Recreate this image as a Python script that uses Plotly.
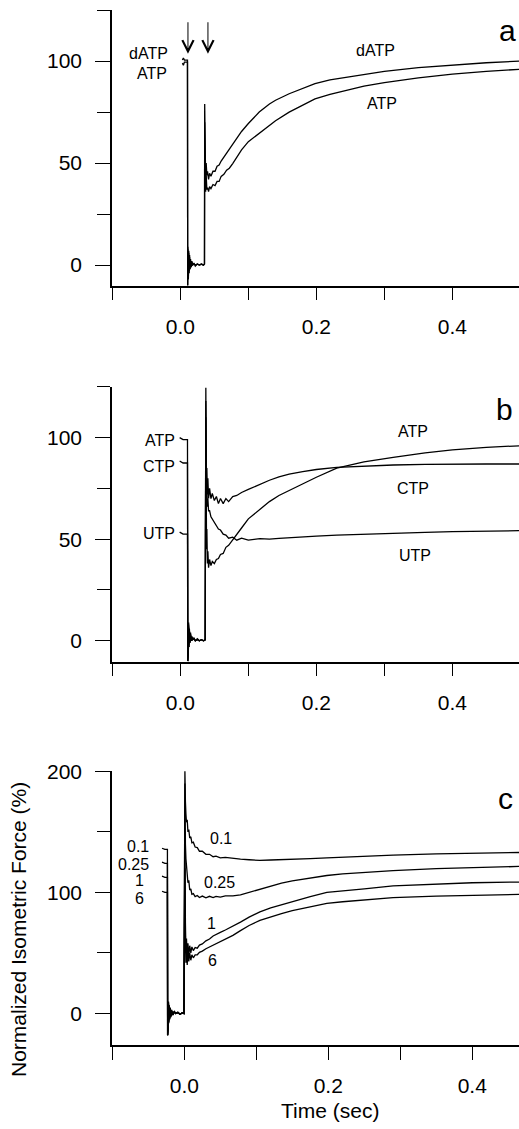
import plotly.graph_objects as go

# ---------------- data ----------------
# Panel a: dATP vs ATP
a_t = [0.003, 0.0045, 0.006, 0.0105, 0.0108, 0.0112, 0.0118, 0.0124, 0.013, 0.0136,
       0.0142, 0.015, 0.016, 0.017, 0.018, 0.02, 0.022, 0.025, 0.028, 0.031,
       0.034, 0.0355, 0.0358, 0.0362, 0.0366, 0.0372, 0.038, 0.039, 0.040, 0.0415,
       0.043, 0.045, 0.048, 0.051, 0.054, 0.057, 0.06, 0.064, 0.068, 0.072,
       0.077, 0.083, 0.09, 0.1, 0.116, 0.131, 0.14, 0.16, 0.18, 0.198,
       0.22, 0.25, 0.27, 0.3, 0.35, 0.4, 0.45, 0.5]
a_datp = [100.5, 101.5, 100.5, 100.5, -10, 9, -7, 7, -4, 5,
          -2, 3, -1, 2, 0, 1, -0.5, 0.5, 0, 0.5,
          0, 0.5, 79, 45, 60, 42, 50, 44, 46, 42,
          45, 43.5, 46, 46, 48.5, 49, 51, 53, 55, 57,
          59.6, 62.5, 65.5, 69.4, 75, 79, 80.8, 84, 86.8, 89,
          90.8, 92.5, 93.6, 95, 96.8, 98, 99.2, 100]
a_atp = [99, 98, 99.5, 99.5, -10, 8, -6, 6, -3, 4,
         -2, 2, -1, 1.5, 0, 0.5, 0, 0.5, 0, 0.5,
         0, 0.5, 70, 40, 52, 36, 44, 37, 38, 36,
         38.5, 37.5, 39.5, 39, 41, 41, 43.5, 44.5, 46.5, 47.5,
         49.8, 53, 56.5, 60.5, 64.5, 68.6, 70.8, 75, 78.5, 81.5,
         83.7, 86, 87.7, 89.5, 91.8, 93.6, 95, 96]

# Panel b: ATP, CTP, UTP
b_t = [-0.001, 0.004, 0.0105, 0.0110, 0.0114, 0.0118, 0.0122, 0.0127, 0.0133, 0.014,
       0.015, 0.016, 0.017, 0.018, 0.02, 0.022, 0.025, 0.028, 0.031, 0.034,
       0.0365, 0.0375, 0.0380, 0.0385, 0.039, 0.0398, 0.0405, 0.0415, 0.043, 0.045,
       0.047, 0.05, 0.053, 0.056, 0.059, 0.063, 0.067, 0.071, 0.077, 0.083,
       0.09, 0.1, 0.117, 0.131, 0.145, 0.16, 0.18, 0.2, 0.23, 0.27,
       0.313, 0.36, 0.4, 0.45, 0.5]
b_atp = [100, 99, 99, -10, 12, -6, 9, -3, 6, -1,
         4, 0, 2, 0.5, 1.5, 0, 1, 0, 0.5, 0,
         0.5, 124.5, 60, 45, 55, 38, 44, 36, 40, 37,
         39, 38, 40, 40.5, 42.5, 43, 46, 47, 49.5, 52.5,
         55.5, 60, 64.5, 68.5, 71.5, 74, 77.5, 80.5, 85, 88,
         90.3, 92.5, 94, 95.2, 96]
b_ctp = [88.5, 87.5, 87.5, -10, 11, -5, 8, -3, 5, -1,
         3, 0, 2, 0.5, 1, 0, 0.5, 0, 0.5, 0,
         0.5, 118, 95, 78, 85, 72, 80, 70, 75, 70,
         72.5, 69, 71, 67.5, 70, 67.5, 70, 68.5, 71, 71.5,
         73, 74.5, 77, 79, 80.7, 82, 83.3, 84.3, 85.3, 86,
         86.5, 86.8, 87, 87, 87]
b_utp = [53.5, 52.5, 52.5, -10, 10, -5, 7, -2, 5, -1,
         3, 0, 1.5, 0.5, 1, 0, 0.5, 0, 0.5, 0,
         0.5, 110, 85, 70, 76, 66, 70, 64, 64, 61,
         60, 58, 57, 55, 54.5, 52.5, 52, 50.5, 51, 49.5,
         50.5, 49.5, 50.3, 50, 50.4, 50.8, 51.1, 51.5, 52, 52.5,
         53, 53.4, 53.7, 54, 54.2]

# Panel c: Pi concentrations (mM) 0.1, 0.25, 1, 6
c_t = [-0.031, -0.027, -0.0235, -0.0232, -0.0228, -0.0224, -0.022, -0.0215, -0.021, -0.0203,
       -0.0195, -0.0185, -0.0175, -0.016, -0.014, -0.012, -0.009, -0.006, -0.003, -0.0005,
       0.0008, 0.0015, 0.0022, 0.003, 0.004, 0.005, 0.0062, 0.0075, 0.009, 0.0105,
       0.0125, 0.015, 0.018, 0.021, 0.025, 0.03, 0.035, 0.04, 0.044, 0.05,
       0.057, 0.0675, 0.078, 0.09, 0.105, 0.12, 0.135, 0.15, 0.175, 0.198,
       0.22, 0.25, 0.29, 0.35, 0.4, 0.466]
c_01 = [136.5, 135.5, 135.5, -18, 12, -12, 10, -8, 7, -5,
        5, -3, 3, -1.5, 2, 0, 1, -0.5, 0.5, 0,
        200, 175, 165, 158, 160, 150, 152, 145, 146, 141,
        141.5, 137.5, 137, 134, 134, 131.5, 131.5, 129.5, 130, 128.5,
        129, 128, 127.5, 127, 126.5, 126.8, 127, 127.3, 127.9, 128.5,
        129.1, 129.8, 130.8, 131.8, 132.5, 133]
c_025 = [125, 124, 124, -18, 11, -11, 9, -7, 6, -4,
         4, -2, 2, -1, 1.5, 0, 1, -0.5, 0.5, 0,
         190, 140, 128, 122, 118, 108, 110, 102, 103, 98.5,
         99, 96.5, 97.5, 95.8, 97, 95.5, 96.8, 95.8, 96.8, 96.2,
         97.2, 97.2, 98, 100, 103, 105.5, 107.7, 109.5, 112, 114,
         115.3, 116.7, 118, 119.6, 120.6, 121.5]
c_1 = [113.5, 112.5, 112.5, -18, 10, -10, 8, -6, 6, -4,
       4, -2, 2, -1, 1.5, 0, 1, -0.5, 0.5, 0,
       150, 75, 52, 62, 45, 58, 48, 56, 50, 55,
       52, 54.5, 54, 56.5, 57.5, 60, 61.5, 64, 65, 67,
       69, 72, 75.5, 79.6, 84, 87.2, 89.8, 92, 96.5, 100,
       101.5, 103, 105.5, 107, 108, 108.6]
c_6 = [101, 100, 100, -18, 9, -9, 7, -5, 5, -3,
       3, -2, 2, -1, 1, 0, 0.5, -0.5, 0.5, 0,
       120, 60, 42, 55, 40, 52, 43, 50, 44, 48.5,
       46, 48.5, 48.5, 50.5, 51.5, 53.5, 55, 56.5, 57.8, 59.5,
       61.5, 64.5, 68.5, 72.7, 77, 80, 82.6, 85, 88.3, 91,
       92.3, 93.8, 95.8, 97, 97.8, 98.4]

for arr in (a_datp, a_atp):
    assert len(arr) == len(a_t)
for arr in (b_atp, b_ctp, b_utp):
    assert len(arr) == len(b_t)
for arr in (c_01, c_025, c_1, c_6):
    assert len(arr) == len(c_t)

x_ticks = [0.0, 0.2, 0.4]
x_minor = [-0.1, 0.1, 0.3]
ab_y_ticks = [0, 50, 100]
ab_y_minor = [25, 75, 125]
c_y_ticks = [0, 100, 200]
c_y_minor = [50, 150]

# ---------------- figure ----------------
FONT = "Arial, 'Liberation Sans', Helvetica, sans-serif"
W, H = 519, 1129
ML, MR, MT, MB = 112, 0, 10, 84
PH = H - MT - MB

def dom(top_px, bot_px):
    return [(H - MB - bot_px) / PH, (H - MB - top_px) / PH]

fig = go.Figure()

def add(t, y, xa, ya):
    fig.add_trace(go.Scatter(x=t, y=y, mode="lines", xaxis=xa, yaxis=ya,
                             line=dict(color="black", width=1.3),
                             showlegend=False, hoverinfo="skip"))

add(a_t, a_datp, "x", "y")
add(a_t, a_atp, "x", "y")
add(b_t, b_atp, "x2", "y2")
add(b_t, b_ctp, "x2", "y2")
add(b_t, b_utp, "x2", "y2")
add(c_t, c_01, "x3", "y3")
add(c_t, c_025, "x3", "y3")
add(c_t, c_1, "x3", "y3")
add(c_t, c_6, "x3", "y3")

tickfont = dict(family=FONT, size=21, color="black")

def xax(rng, anchor):
    return dict(domain=[0, 1], anchor=anchor, range=rng, showgrid=False, zeroline=False,
                showline=True, linecolor="black", linewidth=1.5,
                tickmode="array", tickvals=x_ticks, ticktext=[f"{v:.1f}" for v in x_ticks],
                ticks="outside", ticklen=13, tickwidth=1.2, tickcolor="black",
                minor=dict(tickmode="array", tickvals=x_minor, ticks="outside",
                           ticklen=13, tickwidth=1.2, tickcolor="black", showgrid=False),
                tickfont=tickfont, ticklabelstandoff=8)

def yax(rng, d, anchor, tv, mv):
    return dict(domain=d, anchor=anchor, range=rng, showgrid=False, zeroline=False,
                showline=True, linecolor="black", linewidth=1.5,
                tickmode="array", tickvals=tv, ticktext=[str(v) for v in tv],
                ticks="outside", ticklen=15, tickwidth=1.2, tickcolor="black",
                minor=dict(tickmode="array", tickvals=mv, ticks="outside",
                           ticklen=13, tickwidth=1.2, tickcolor="black", showgrid=False),
                tickfont=tickfont, ticklabelstandoff=9)

fig.update_layout(
    width=W, height=H, autosize=False,
    margin=dict(l=ML, r=MR, t=MT, b=MB, pad=0),
    paper_bgcolor="white", plot_bgcolor="white",
    font=dict(family=FONT, color="black"),
    xaxis=xax([-0.1005, 0.498], "y"),
    yaxis=yax([-10.1, 125.05], dom(10, 285.7), "x", ab_y_ticks, ab_y_minor),
    xaxis2=xax([-0.1005, 0.498], "y2"),
    yaxis2=yax([-10.3, 125.05], dom(386.7, 661.7), "x2", ab_y_ticks, ab_y_minor),
    xaxis3=xax([-0.1005, 0.465], "y3"),
    yaxis3=yax([-26, 200.3], dom(771, 1045), "x3", c_y_ticks, c_y_minor),
)

lab = dict(family=FONT, size=16, color="black")
big = dict(family=FONT, size=30, color="black")
ann = []
def A(x, y, text, xr, yr, font=lab, xanchor="center"):
    ann.append(dict(x=x, y=y, xref=xr, yref=yr, text=text, showarrow=False,
                    font=font, xanchor=xanchor, yanchor="middle"))

# panel a
A(-0.0466, 103.9, "dATP", "x", "y")
A(-0.042, 94.1, "ATP", "x", "y")
A(0.287, 105.2, "dATP", "x", "y")
A(0.296, 79.1, "ATP", "x", "y")
A(0.4816, 115, "a", "x", "y", big)
for xa in (0.0112, 0.0406):
    ann.append(dict(x=xa, y=103.6, xref="x", yref="y", text="", showarrow=True,
                    ax=0, ay=-33, arrowhead=5, arrowsize=2.2, arrowwidth=1.0,
                    arrowcolor="black"))
# panel b
A(-0.0044, 98.7, "ATP", "x2", "y2", xanchor="right")
A(-0.0044, 85.6, "CTP", "x2", "y2", xanchor="right")
A(-0.0044, 52.9, "UTP", "x2", "y2", xanchor="right")
A(0.342, 102.8, "ATP", "x2", "y2")
A(0.342, 74.9, "CTP", "x2", "y2")
A(0.345, 42, "UTP", "x2", "y2")
A(0.476, 114, "b", "x2", "y2", big)
# panel c
A(-0.0464, 138.1, "0.1", "x3", "y3", xanchor="right")
A(-0.0464, 123.3, "0.25", "x3", "y3", xanchor="right")
A(-0.0534, 110.1, "1", "x3", "y3", xanchor="right")
A(-0.0534, 95.3, "6", "x3", "y3", xanchor="right")
A(0.0512, 144.5, "0.1", "x3", "y3")
A(0.0488, 107.9, "0.25", "x3", "y3")
A(0.0372, 74.4, "1", "x3", "y3")
A(0.0395, 44.1, "6", "x3", "y3")
A(0.446, 177.7, "c", "x3", "y3", big)

# axis titles
ann.append(dict(x=(330 - ML) / (W - ML - MR), y=(H - MB - 1110) / PH, xref="paper", yref="paper",
                text="Time (sec)", showarrow=False, font=dict(family=FONT, size=21, color="black"),
                xanchor="center", yanchor="middle"))
ann.append(dict(x=(18 - ML) / (W - ML - MR), y=(H - MB - 930) / PH, xref="paper", yref="paper",
                text="Normalized Isometric Force (%)", showarrow=False, textangle=-90,
                font=dict(family=FONT, size=21, color="black"),
                xanchor="center", yanchor="middle"))

fig.update_layout(annotations=ann)
fig.write_html("out.html", include_plotlyjs=True, config={"displayModeBar": False},
               post_script="document.body.style.margin='0';document.body.style.overflow='hidden';")
